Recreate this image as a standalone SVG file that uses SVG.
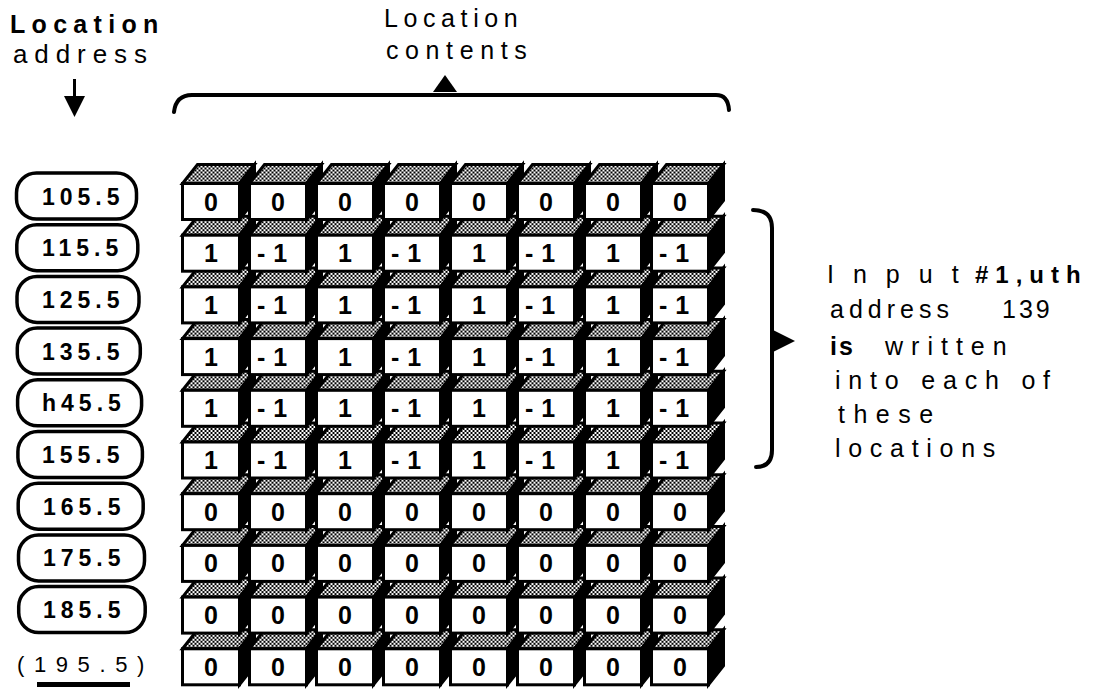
<svg xmlns="http://www.w3.org/2000/svg" xmlns:xlink="http://www.w3.org/1999/xlink" width="1100" height="691" viewBox="0 0 1100 691">
<style>
text{font-family:"Liberation Sans",Arial,sans-serif;fill:#000}
.lbl{font-size:25px}
.b{font-weight:bold}
.d{font-size:25px;font-weight:bold;text-anchor:middle}
.m{font-size:25px;font-weight:bold;text-anchor:middle;letter-spacing:8px}
.pt{font-size:23px;font-weight:bold;letter-spacing:5px}
.top{fill:url(#stip);stroke:#000;stroke-width:3;stroke-linejoin:miter}
.side{fill:#000;stroke:#000;stroke-width:3}
.front{fill:#fff;stroke:#000;stroke-width:3}
.pill{fill:#fff;stroke:#000;stroke-width:3.5}
.br{fill:none;stroke:#000;stroke-width:4;stroke-linecap:round}
</style>
<defs>
<pattern id="stip" patternUnits="userSpaceOnUse" width="4" height="4">
<rect width="4" height="4" fill="#000"/>
<rect x="0" y="0" width="2" height="2" fill="#fff"/>
<rect x="2" y="2" width="2" height="2" fill="#fff"/>
</pattern>
<g id="cube">
<path class="top" d="M0 0 L15 -19 L72 -19 L57 0 Z"/>
<path class="side" d="M57 0 L72 -19 L72 17 L57 36 Z"/>
<rect class="front" x="0" y="0" width="57" height="36"/>
</g>
</defs>
<rect width="1100" height="691" fill="#fff"/>

<g id="labels">
<text class="lbl b" x="10" y="33" style="letter-spacing:6.3px">Location</text>
<text x="13" y="63" style="font-size:26px;letter-spacing:6.9px">address</text>
<text class="lbl" x="384" y="27" style="letter-spacing:5.6px">Location</text>
<text class="lbl" x="386" y="59" style="letter-spacing:6.6px">contents</text>
</g>

<g id="connectors">
<line x1="74.5" y1="79" x2="74.5" y2="99" stroke="#000" stroke-width="3"/>
<polygon points="64,96 85,96 74.5,117" fill="#000"/>
<path class="br" d="M174 112 Q176 95 192 95 L716 95 Q728 95 729 110"/>
<polygon points="433,92 445,75 457,92" fill="#000"/>
<path class="br" d="M753 210 Q772 210 772 228 L772 450 Q772 467 756 467"/>
<polygon points="773,330 795,341 773,352" fill="#000"/>
</g>

<g id="note">
<text class="lbl" x="827" y="283"><tspan style="letter-spacing:19px">Input</tspan><tspan class="b" x="975" style="font-size:24px;letter-spacing:7px">#1,uth</tspan></text>
<text class="lbl" x="830" y="318"><tspan style="letter-spacing:5px">address</tspan><tspan x="1002" style="letter-spacing:3px">139</tspan></text>
<text class="lbl" x="830" y="355"><tspan class="b" style="letter-spacing:2px">is</tspan><tspan x="885" style="letter-spacing:8px">written</tspan></text>
<text class="lbl" x="835" y="389" style="letter-spacing:7.8px">into each of</text>
<text class="lbl" x="838" y="423" style="letter-spacing:8.5px">these</text>
<text class="lbl" x="835" y="457" style="letter-spacing:7.7px">locations</text>
</g>

<g id="addresses">
<g id="addr-0"><rect class="pill" x="16.5" y="173" width="120" height="46" rx="20"/><text class="pt" x="42" y="204.5">105.5</text></g>
<g id="addr-1"><rect class="pill" x="16.8" y="224.7" width="121" height="46" rx="20"/><text class="pt" x="42" y="256.2">115.5</text></g>
<g id="addr-2"><rect class="pill" x="17" y="276.4" width="122" height="46" rx="20"/><text class="pt" x="42" y="307.9">125.5</text></g>
<g id="addr-3"><rect class="pill" x="17.3" y="328.1" width="123" height="46" rx="20"/><text class="pt" x="42" y="359.6">135.5</text></g>
<g id="addr-4"><rect class="pill" x="17.6" y="379.8" width="124" height="46" rx="20"/><text class="pt" x="42" y="411.3">h45.5</text></g>
<g id="addr-5"><rect class="pill" x="17.9" y="431.5" width="124.5" height="46" rx="20"/><text class="pt" x="42" y="463">155.5</text></g>
<g id="addr-6"><rect class="pill" x="18.2" y="483.2" width="125" height="46" rx="20"/><text class="pt" x="43" y="514.7">165.5</text></g>
<g id="addr-7"><rect class="pill" x="18.5" y="534.9" width="126" height="46" rx="20"/><text class="pt" x="43" y="566.4">175.5</text></g>
<g id="addr-8"><rect class="pill" x="18.7" y="586.6" width="126.5" height="46" rx="20"/><text class="pt" x="43" y="618.1">185.5</text></g>
<g id="addr-9"><text x="17" y="672" style="font-size:22px;letter-spacing:9.6px">(195.5)</text><rect x="37" y="682" width="93" height="5" fill="#000"/></g>
</g>

<g id="grid">
<g id="row-9">
<g id="c9-0"><use xlink:href="#cube" x="182.5" y="648.8"/><text class="d" x="211" y="675.8">0</text></g>
<g id="c9-1"><use xlink:href="#cube" x="249.5" y="648.8"/><text class="d" x="278" y="675.8">0</text></g>
<g id="c9-2"><use xlink:href="#cube" x="316.5" y="648.8"/><text class="d" x="345" y="675.8">0</text></g>
<g id="c9-3"><use xlink:href="#cube" x="383.5" y="648.8"/><text class="d" x="412" y="675.8">0</text></g>
<g id="c9-4"><use xlink:href="#cube" x="450.5" y="648.8"/><text class="d" x="479" y="675.8">0</text></g>
<g id="c9-5"><use xlink:href="#cube" x="517.5" y="648.8"/><text class="d" x="546" y="675.8">0</text></g>
<g id="c9-6"><use xlink:href="#cube" x="584.5" y="648.8"/><text class="d" x="613" y="675.8">0</text></g>
<g id="c9-7"><use xlink:href="#cube" x="651.5" y="648.8"/><text class="d" x="680" y="675.8">0</text></g>
</g>
<g id="row-8">
<g id="c8-0"><use xlink:href="#cube" x="182.5" y="597.1"/><text class="d" x="211" y="624.1">0</text></g>
<g id="c8-1"><use xlink:href="#cube" x="249.5" y="597.1"/><text class="d" x="278" y="624.1">0</text></g>
<g id="c8-2"><use xlink:href="#cube" x="316.5" y="597.1"/><text class="d" x="345" y="624.1">0</text></g>
<g id="c8-3"><use xlink:href="#cube" x="383.5" y="597.1"/><text class="d" x="412" y="624.1">0</text></g>
<g id="c8-4"><use xlink:href="#cube" x="450.5" y="597.1"/><text class="d" x="479" y="624.1">0</text></g>
<g id="c8-5"><use xlink:href="#cube" x="517.5" y="597.1"/><text class="d" x="546" y="624.1">0</text></g>
<g id="c8-6"><use xlink:href="#cube" x="584.5" y="597.1"/><text class="d" x="613" y="624.1">0</text></g>
<g id="c8-7"><use xlink:href="#cube" x="651.5" y="597.1"/><text class="d" x="680" y="624.1">0</text></g>
</g>
<g id="row-7">
<g id="c7-0"><use xlink:href="#cube" x="182.5" y="545.4"/><text class="d" x="211" y="572.4">0</text></g>
<g id="c7-1"><use xlink:href="#cube" x="249.5" y="545.4"/><text class="d" x="278" y="572.4">0</text></g>
<g id="c7-2"><use xlink:href="#cube" x="316.5" y="545.4"/><text class="d" x="345" y="572.4">0</text></g>
<g id="c7-3"><use xlink:href="#cube" x="383.5" y="545.4"/><text class="d" x="412" y="572.4">0</text></g>
<g id="c7-4"><use xlink:href="#cube" x="450.5" y="545.4"/><text class="d" x="479" y="572.4">0</text></g>
<g id="c7-5"><use xlink:href="#cube" x="517.5" y="545.4"/><text class="d" x="546" y="572.4">0</text></g>
<g id="c7-6"><use xlink:href="#cube" x="584.5" y="545.4"/><text class="d" x="613" y="572.4">0</text></g>
<g id="c7-7"><use xlink:href="#cube" x="651.5" y="545.4"/><text class="d" x="680" y="572.4">0</text></g>
</g>
<g id="row-6">
<g id="c6-0"><use xlink:href="#cube" x="182.5" y="493.7"/><text class="d" x="211" y="520.7">0</text></g>
<g id="c6-1"><use xlink:href="#cube" x="249.5" y="493.7"/><text class="d" x="278" y="520.7">0</text></g>
<g id="c6-2"><use xlink:href="#cube" x="316.5" y="493.7"/><text class="d" x="345" y="520.7">0</text></g>
<g id="c6-3"><use xlink:href="#cube" x="383.5" y="493.7"/><text class="d" x="412" y="520.7">0</text></g>
<g id="c6-4"><use xlink:href="#cube" x="450.5" y="493.7"/><text class="d" x="479" y="520.7">0</text></g>
<g id="c6-5"><use xlink:href="#cube" x="517.5" y="493.7"/><text class="d" x="546" y="520.7">0</text></g>
<g id="c6-6"><use xlink:href="#cube" x="584.5" y="493.7"/><text class="d" x="613" y="520.7">0</text></g>
<g id="c6-7"><use xlink:href="#cube" x="651.5" y="493.7"/><text class="d" x="680" y="520.7">0</text></g>
</g>
<g id="row-5">
<g id="c5-0"><use xlink:href="#cube" x="182.5" y="442"/><text class="d" x="211" y="469">1</text></g>
<g id="c5-1"><use xlink:href="#cube" x="249.5" y="442"/><text class="m" x="276" y="469">-1</text></g>
<g id="c5-2"><use xlink:href="#cube" x="316.5" y="442"/><text class="d" x="345" y="469">1</text></g>
<g id="c5-3"><use xlink:href="#cube" x="383.5" y="442"/><text class="m" x="410" y="469">-1</text></g>
<g id="c5-4"><use xlink:href="#cube" x="450.5" y="442"/><text class="d" x="479" y="469">1</text></g>
<g id="c5-5"><use xlink:href="#cube" x="517.5" y="442"/><text class="m" x="544" y="469">-1</text></g>
<g id="c5-6"><use xlink:href="#cube" x="584.5" y="442"/><text class="d" x="613" y="469">1</text></g>
<g id="c5-7"><use xlink:href="#cube" x="651.5" y="442"/><text class="m" x="678" y="469">-1</text></g>
</g>
<g id="row-4">
<g id="c4-0"><use xlink:href="#cube" x="182.5" y="390.3"/><text class="d" x="211" y="417.3">1</text></g>
<g id="c4-1"><use xlink:href="#cube" x="249.5" y="390.3"/><text class="m" x="276" y="417.3">-1</text></g>
<g id="c4-2"><use xlink:href="#cube" x="316.5" y="390.3"/><text class="d" x="345" y="417.3">1</text></g>
<g id="c4-3"><use xlink:href="#cube" x="383.5" y="390.3"/><text class="m" x="410" y="417.3">-1</text></g>
<g id="c4-4"><use xlink:href="#cube" x="450.5" y="390.3"/><text class="d" x="479" y="417.3">1</text></g>
<g id="c4-5"><use xlink:href="#cube" x="517.5" y="390.3"/><text class="m" x="544" y="417.3">-1</text></g>
<g id="c4-6"><use xlink:href="#cube" x="584.5" y="390.3"/><text class="d" x="613" y="417.3">1</text></g>
<g id="c4-7"><use xlink:href="#cube" x="651.5" y="390.3"/><text class="m" x="678" y="417.3">-1</text></g>
</g>
<g id="row-3">
<g id="c3-0"><use xlink:href="#cube" x="182.5" y="338.6"/><text class="d" x="211" y="365.6">1</text></g>
<g id="c3-1"><use xlink:href="#cube" x="249.5" y="338.6"/><text class="m" x="276" y="365.6">-1</text></g>
<g id="c3-2"><use xlink:href="#cube" x="316.5" y="338.6"/><text class="d" x="345" y="365.6">1</text></g>
<g id="c3-3"><use xlink:href="#cube" x="383.5" y="338.6"/><text class="m" x="410" y="365.6">-1</text></g>
<g id="c3-4"><use xlink:href="#cube" x="450.5" y="338.6"/><text class="d" x="479" y="365.6">1</text></g>
<g id="c3-5"><use xlink:href="#cube" x="517.5" y="338.6"/><text class="m" x="544" y="365.6">-1</text></g>
<g id="c3-6"><use xlink:href="#cube" x="584.5" y="338.6"/><text class="d" x="613" y="365.6">1</text></g>
<g id="c3-7"><use xlink:href="#cube" x="651.5" y="338.6"/><text class="m" x="678" y="365.6">-1</text></g>
</g>
<g id="row-2">
<g id="c2-0"><use xlink:href="#cube" x="182.5" y="286.9"/><text class="d" x="211" y="313.9">1</text></g>
<g id="c2-1"><use xlink:href="#cube" x="249.5" y="286.9"/><text class="m" x="276" y="313.9">-1</text></g>
<g id="c2-2"><use xlink:href="#cube" x="316.5" y="286.9"/><text class="d" x="345" y="313.9">1</text></g>
<g id="c2-3"><use xlink:href="#cube" x="383.5" y="286.9"/><text class="m" x="410" y="313.9">-1</text></g>
<g id="c2-4"><use xlink:href="#cube" x="450.5" y="286.9"/><text class="d" x="479" y="313.9">1</text></g>
<g id="c2-5"><use xlink:href="#cube" x="517.5" y="286.9"/><text class="m" x="544" y="313.9">-1</text></g>
<g id="c2-6"><use xlink:href="#cube" x="584.5" y="286.9"/><text class="d" x="613" y="313.9">1</text></g>
<g id="c2-7"><use xlink:href="#cube" x="651.5" y="286.9"/><text class="m" x="678" y="313.9">-1</text></g>
</g>
<g id="row-1">
<g id="c1-0"><use xlink:href="#cube" x="182.5" y="235.2"/><text class="d" x="211" y="262.2">1</text></g>
<g id="c1-1"><use xlink:href="#cube" x="249.5" y="235.2"/><text class="m" x="276" y="262.2">-1</text></g>
<g id="c1-2"><use xlink:href="#cube" x="316.5" y="235.2"/><text class="d" x="345" y="262.2">1</text></g>
<g id="c1-3"><use xlink:href="#cube" x="383.5" y="235.2"/><text class="m" x="410" y="262.2">-1</text></g>
<g id="c1-4"><use xlink:href="#cube" x="450.5" y="235.2"/><text class="d" x="479" y="262.2">1</text></g>
<g id="c1-5"><use xlink:href="#cube" x="517.5" y="235.2"/><text class="m" x="544" y="262.2">-1</text></g>
<g id="c1-6"><use xlink:href="#cube" x="584.5" y="235.2"/><text class="d" x="613" y="262.2">1</text></g>
<g id="c1-7"><use xlink:href="#cube" x="651.5" y="235.2"/><text class="m" x="678" y="262.2">-1</text></g>
</g>
<g id="row-0">
<g id="c0-0"><use xlink:href="#cube" x="182.5" y="183.5"/><text class="d" x="211" y="210.5">0</text></g>
<g id="c0-1"><use xlink:href="#cube" x="249.5" y="183.5"/><text class="d" x="278" y="210.5">0</text></g>
<g id="c0-2"><use xlink:href="#cube" x="316.5" y="183.5"/><text class="d" x="345" y="210.5">0</text></g>
<g id="c0-3"><use xlink:href="#cube" x="383.5" y="183.5"/><text class="d" x="412" y="210.5">0</text></g>
<g id="c0-4"><use xlink:href="#cube" x="450.5" y="183.5"/><text class="d" x="479" y="210.5">0</text></g>
<g id="c0-5"><use xlink:href="#cube" x="517.5" y="183.5"/><text class="d" x="546" y="210.5">0</text></g>
<g id="c0-6"><use xlink:href="#cube" x="584.5" y="183.5"/><text class="d" x="613" y="210.5">0</text></g>
<g id="c0-7"><use xlink:href="#cube" x="651.5" y="183.5"/><text class="d" x="680" y="210.5">0</text></g>
</g>
</g>
</svg>
